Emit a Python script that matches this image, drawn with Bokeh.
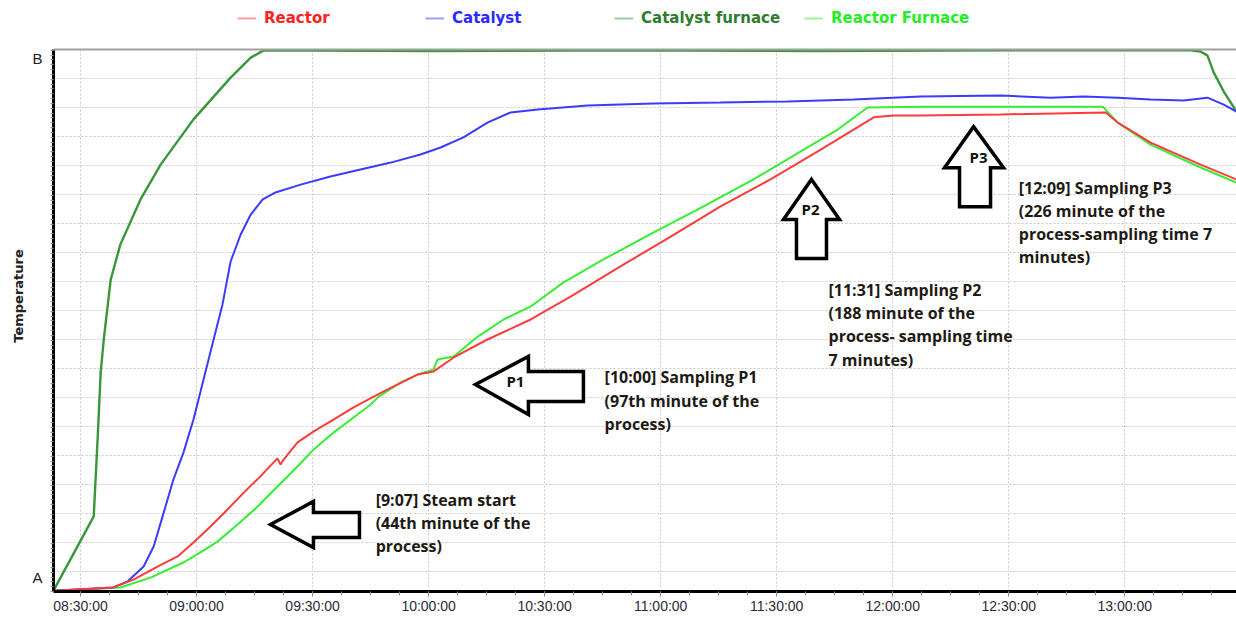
from bokeh.plotting import figure
from bokeh.models import Range1d, FixedTicker, Legend, LegendItem, BoxAnnotation, Span
from bokeh.embed import file_html
from bokeh.resources import INLINE
from bokeh.core.properties import value

# ---------------- data (x = minutes since midnight, y = temperature in grid units) ----------------
tick_minutes = [510, 540, 570, 600, 630, 660, 690, 720, 750, 780]
tick_labels = ["08:30:00", "09:00:00", "09:30:00", "10:00:00", "10:30:00",
               "11:00:00", "11:30:00", "12:00:00", "12:30:00", "13:00:00"]
y_tick_values = [-0.21, 17.69]
y_tick_labels = ["A", "B"]

series_names = ["Reactor", "Catalyst", "Catalyst furnace", "Reactor Furnace"]

cat_furnace_x = [503.0, 513.4, 514.4, 515.2, 516.0, 517.8, 520.3, 525.5, 530.7, 539.2,
                 548.8, 554.0, 557.3, 600.0, 650.0, 700.0, 750.0, 797.0, 799.6, 801.4,
                 803.0, 805.6, 808.9]
cat_furnace_y = [-0.66, 1.90, 4.55, 6.86, 8.00, 10.07, 11.28, 12.83, 14.03, 15.59,
                 17.03, 17.72, 17.97, 17.95, 17.97, 17.95, 17.97, 17.97, 17.93, 17.79,
                 17.21, 16.55, 15.86]

catalyst_x = [503.0, 518.5, 522.2, 526.3, 528.9, 531.5, 534.0, 536.6, 539.2, 541.8,
              544.4, 546.7, 548.8, 551.4, 554.0, 557.1, 560.4, 566.9, 574.6, 582.4,
              590.2, 597.9, 603.1, 609.0, 615.2, 621.2, 628.2, 641.1, 658.2, 675.5,
              692.8, 709.9, 727.2, 747.9, 760.8, 769.4, 778.2, 786.7, 795.2, 801.4,
              805.6, 808.9]
catalyst_y = [-0.66, -0.55, -0.34, 0.17, 0.86, 2.03, 3.17, 4.10, 5.24, 6.62,
              8.00, 9.21, 10.69, 11.62, 12.31, 12.83, 13.07, 13.34, 13.62, 13.86,
              14.10, 14.38, 14.62, 14.97, 15.48, 15.83, 15.93, 16.07, 16.14, 16.17,
              16.21, 16.28, 16.38, 16.41, 16.34, 16.38, 16.34, 16.28, 16.24, 16.34,
              16.10, 15.86]

reactor_x = [503.0, 518.5, 523.7, 529.9, 535.1, 539.2, 543.6, 548.0, 552.2, 556.5,
             560.9, 561.7, 562.5, 566.1, 570.3, 575.4, 580.6, 585.8, 588.4, 597.1,
             601.3, 606.5, 615.2, 626.4, 636.7, 649.6, 662.6, 675.5, 688.4, 701.4,
             709.9, 715.1, 720.2, 727.2, 747.9, 775.1, 778.2, 786.7, 799.6, 808.9]
reactor_y = [-0.66, -0.55, -0.28, 0.17, 0.52, 1.00, 1.55, 2.14, 2.72, 3.28,
             3.90, 3.69, 3.86, 4.45, 4.83, 5.24, 5.66, 6.03, 6.21, 6.79,
             6.90, 7.38, 8.00, 8.69, 9.48, 10.52, 11.55, 12.59, 13.52, 14.55,
             15.24, 15.66, 15.72, 15.72, 15.76, 15.83, 15.48, 14.79, 14.03, 13.52]

reactor_furnace_x = [503.0, 520.3, 528.1, 536.6, 541.0, 545.4, 550.6, 555.8, 560.9, 566.1,
                     570.3, 575.4, 580.6, 585.0, 587.1, 592.8, 597.1, 601.3, 602.3, 606.5,
                     612.7, 619.4, 626.4, 634.9, 645.2, 658.2, 671.1, 684.0, 697.0, 705.8,
                     713.5, 727.2, 747.9, 774.3, 778.2, 786.7, 799.6, 808.9]
reactor_furnace_y = [-0.66, -0.55, -0.21, 0.31, 0.66, 1.03, 1.62, 2.24, 2.93, 3.62,
                     4.21, 4.79, 5.31, 5.76, 6.03, 6.52, 6.79, 6.97, 7.31, 7.41,
                     8.10, 8.69, 9.14, 9.97, 10.76, 11.69, 12.59, 13.52, 14.55, 15.24,
                     16.00, 16.03, 16.03, 16.03, 15.48, 14.72, 13.93, 13.41]

# annotations: arrow tip (time, level) and text
arrow_tips_x = [559.1, 612.1, 699.0, 740.9]
arrow_tips_y = [1.62, 6.45, 13.52, 15.34]
arrow_names = ["", "P1", "P2", "P3"]
note_x = [586.3, 645.5, 703.4, 752.6]
note_y = [2.48, 6.69, 9.72, 13.24]
note_lines = [
    ["[9:07] Steam start", "(44th minute of the", "process)"],
    ["[10:00] Sampling P1", "(97th minute of the", "process)"],
    ["[11:31] Sampling P2", "(188 minute of the", "process- sampling time", "7 minutes)"],
    ["[12:09] Sampling P3", "(226 minute of the", "process-sampling time 7", "minutes)"],
]

# ---------------- styling / layout ----------------
W, H = 1236, 623
BL, BR, BB = 53, 0, 32
PLOT_TOP_PX = 49          # distance of the plot box top from the picture top
X0, X1 = 503.0, 808.9
Y0, YTOP = -0.69, 18.0
FW = W - BL - BR
PXX = FW / (X1 - X0)
PXY = (H - BB - PLOT_TOP_PX) / (YTOP - Y0)
Y1 = YTOP + PLOT_TOP_PX / PXY   # frame extends to the very top so the legend fits

colors = ["#ff3b3b", "#3b3bff", "#3a963a", "#35ee35"]
text_colors = ["#ff2222", "#2a2aff", "#2e7d2e", "#22ee22"]

p = figure(width=W, height=H, output_backend="svg", toolbar_location=None,
           x_range=Range1d(X0, X1), y_range=Range1d(Y0, Y1),
           min_border_left=BL, min_border_right=BR, min_border_top=0,
           min_border_bottom=BB)
p.background_fill_color = "white"
p.border_fill_color = "white"
p.outline_line_color = None

# grids
p.xgrid.ticker = FixedTicker(ticks=tick_minutes)
p.ygrid.ticker = FixedTicker(ticks=list(range(0, 18)))
for g in (p.xgrid, p.ygrid):
    g.grid_line_color = "#c8c8c8"
    g.grid_line_dash = "2 2"
    g.grid_line_width = 1

# x axis
minor_x = [502.5 + 7.5 * i for i in range(42)]
p.xaxis.ticker = FixedTicker(ticks=tick_minutes, minor_ticks=minor_x)
p.xaxis.major_label_overrides = {t: l for t, l in zip(tick_minutes, tick_labels)}
p.xaxis.axis_line_width = 3
p.xaxis.axis_line_color = "black"
p.xaxis.major_tick_out = 5
p.xaxis.major_tick_in = 0
p.xaxis.minor_tick_out = 4
p.xaxis.minor_tick_in = 0
p.xaxis.major_tick_line_color = "#888888"
p.xaxis.minor_tick_line_color = "#888888"
p.xaxis.major_label_standoff = 1
p.xaxis.major_label_text_font = "Liberation Sans"
p.xaxis.major_label_text_font_size = "14px"
p.xaxis.major_label_text_color = "#2a2a3a"

# y axis
minor_y = [-0.69 + i / 6 for i in range(113)]
p.yaxis.ticker = FixedTicker(ticks=y_tick_values, minor_ticks=minor_y)
p.yaxis.bounds = (Y0, YTOP)
p.yaxis.major_label_overrides = {t: l for t, l in zip(y_tick_values, y_tick_labels)}
p.yaxis.axis_line_width = 3
p.yaxis.axis_line_color = "black"
p.yaxis.major_tick_out = 0
p.yaxis.major_tick_in = 0
p.yaxis.minor_tick_out = 3
p.yaxis.minor_tick_in = 0
p.yaxis.minor_tick_line_color = "#999999"
p.yaxis.major_label_standoff = 8
p.yaxis.major_label_text_font = "Liberation Sans"
p.yaxis.major_label_text_font_size = "15px"
p.yaxis.major_label_text_color = "#222222"
p.yaxis.axis_label = "Temperature"
p.yaxis.axis_label_text_font = "DejaVu Sans"
p.yaxis.axis_label_text_font_style = "bold"
p.yaxis.axis_label_text_font_size = "13px"
p.yaxis.axis_label_text_color = "#222222"
p.yaxis.axis_label_standoff = 3

# series
p.line(cat_furnace_x, cat_furnace_y, line_color=colors[2], line_width=2.4)
p.line(reactor_furnace_x, reactor_furnace_y, line_color=colors[3], line_width=2)
p.line(catalyst_x, catalyst_y, line_color=colors[1], line_width=2)
p.line(reactor_x, reactor_y, line_color=colors[0], line_width=2)

# arrows (shape given in screen pixels relative to tip)
shapes = [
    [(0, 0), (43, 23), (43, 12), (89, 12), (89, -13), (43, -13), (43, -23)],
    [(0, 0), (53, 28), (53, 13), (108, 13), (108, -17), (53, -17), (53, -30)],
    [(0, 0), (28, -40), (15, -40), (15, -79), (-15, -79), (-15, -40), (-28, -40)],
    [(0, 0), (30, -41), (17, -41), (17, -80), (-14, -80), (-14, -41), (-29, -41)],
]
label_off = [(0, 0), (40, 3), (-1, -30), (5, -30)]
axs, ays = [], []
for tx, ty, sh in zip(arrow_tips_x, arrow_tips_y, shapes):
    axs.append([tx + dx / PXX for dx, dy in sh])
    ays.append([ty + dy / PXY for dx, dy in sh])
p.patches(axs, ays, fill_color="white", line_color="black", line_width=3.5,
          line_join="miter")
lx = [tx + o[0] / PXX for tx, o in zip(arrow_tips_x, label_off)]
ly = [ty + o[1] / PXY for ty, o in zip(arrow_tips_y, label_off)]
p.text(lx, ly, text=arrow_names, text_align="center", text_baseline="middle",
       text_font=value("Open Sans"), text_font_style="bold", text_font_size="15px",
       text_color="#111111")

tx_all, ty_all, tt_all = [], [], []
for nx, ny, lines in zip(note_x, note_y, note_lines):
    for i, ln in enumerate(lines):
        tx_all.append(nx)
        ty_all.append(ny - i * 23.3 / PXY)
        tt_all.append(ln)
p.text(tx_all, ty_all, text=tt_all, text_align="left", text_baseline="middle",
       text_font=value("Open Sans"), text_font_style="bold", text_font_size="16px",
       text_color="#1e1a14")

# white band above the plot box (hides grid there), then the box's top border
p.add_layout(BoxAnnotation(bottom=YTOP, fill_color="white", fill_alpha=1.0,
                           line_color=None))
p.add_layout(Span(location=YTOP, dimension="width", line_color="#a0a0a0",
                  line_width=2))

# legend (one per series so that each label has its own colour)
nan = float("nan")
leg_x = [184, 372, 561, 751]
for name, c, tc, lxp in zip(series_names, colors, text_colors, leg_x):
    dummy = p.line(x=[nan, nan], y=[nan, nan], line_color=c, line_alpha=0.5,
                   line_width=2)
    lg = Legend(items=[LegendItem(label=name, renderers=[dummy])],
                location=(lxp, 563), padding=0, margin=0, spacing=0,
                glyph_width=19, glyph_height=20, label_height=20, label_standoff=8,
                label_text_font="DejaVu Sans", label_text_font_style="bold",
                label_text_font_size="15px", label_text_color=tc,
                border_line_color=None, background_fill_alpha=0)
    p.add_layout(lg)

open("out.html", "w").write(file_html(p, INLINE))
